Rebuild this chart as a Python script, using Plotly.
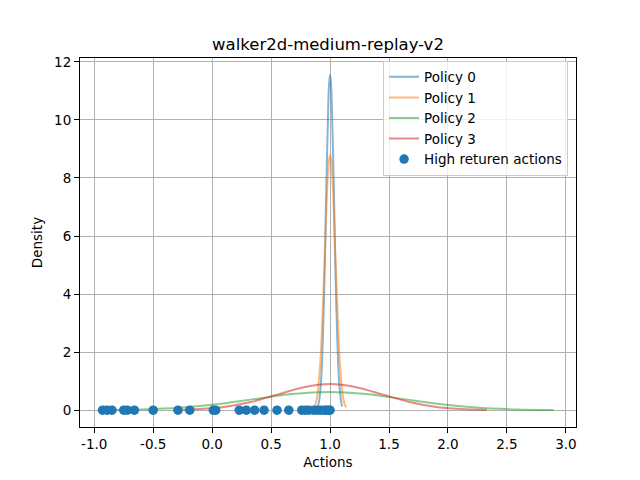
import plotly.graph_objects as go

# ---- data ----
p0_x = [0.896, 0.905, 0.913, 0.922, 0.931, 0.939, 0.948, 0.957, 0.965, 0.974, 0.983, 0.991, 1.0,
        1.009, 1.017, 1.026, 1.035, 1.043, 1.052, 1.061, 1.069, 1.078, 1.087, 1.095, 1.104]
p0_y = [0.128, 0.263, 0.507, 0.919, 1.563, 2.498, 3.750, 5.288, 7.005, 8.718, 10.193, 11.194, 11.55,
        11.194, 10.193, 8.718, 7.005, 5.288, 3.750, 2.498, 1.563, 0.919, 0.507, 0.263, 0.128]

p1_x = [0.864, 0.875, 0.887, 0.898, 0.909, 0.921, 0.932, 0.943, 0.955, 0.966, 0.977, 0.989, 1.0,
        1.011, 1.023, 1.034, 1.045, 1.057, 1.068, 1.079, 1.091, 1.102, 1.113, 1.125, 1.136]
p1_y = [0.098, 0.201, 0.386, 0.700, 1.191, 1.903, 2.857, 4.029, 5.337, 6.642, 7.766, 8.529, 8.8,
        8.529, 7.766, 6.642, 5.337, 4.029, 2.857, 1.903, 1.191, 0.700, 0.386, 0.201, 0.098]

p2_x = [-0.915, -0.598, -0.28, 0.038, 0.355, 0.673, 0.99, 1.308, 1.625, 1.943, 2.26, 2.578, 2.895]
p2_y = [0.007, 0.028, 0.085, 0.205, 0.382, 0.556, 0.63, 0.556, 0.382, 0.205, 0.085, 0.028, 0.007]

p3_x = [-0.329, -0.108, 0.114, 0.336, 0.557, 0.779, 1.0, 1.221, 1.443, 1.664, 1.886, 2.107, 2.329]
p3_y = [0.010, 0.040, 0.122, 0.292, 0.546, 0.794, 0.9, 0.794, 0.546, 0.292, 0.122, 0.040, 0.010]

high_x = [-0.93, -0.89, -0.85, -0.75, -0.72, -0.66, -0.50, -0.29, -0.19, 0.01, 0.03, 0.23, 0.29,
          0.36, 0.44, 0.55, 0.65, 0.76, 0.79, 0.82, 0.86, 0.89, 0.92, 0.95, 0.97, 0.99, 1.0]
high_y = [0.0] * len(high_x)

policies = [("Policy 0", p0_x, p0_y, "rgba(31,119,180,0.55)"),
            ("Policy 1", p1_x, p1_y, "rgba(255,127,14,0.55)"),
            ("Policy 2", p2_x, p2_y, "rgba(44,160,44,0.55)"),
            ("Policy 3", p3_x, p3_y, "rgba(214,39,40,0.55)")]

x_ticks = [-1.0, -0.5, 0.0, 0.5, 1.0, 1.5, 2.0, 2.5, 3.0]
y_ticks = [0, 2, 4, 6, 8, 10, 12]

fig = go.Figure()
for name, xs, ys, col in policies:
    fig.add_trace(go.Scatter(x=xs, y=ys, mode="lines", name=name,
                             line=dict(color=col, width=2, shape="spline")))
fig.add_trace(go.Scatter(x=high_x, y=high_y, mode="markers", name="High returen actions",
                         marker=dict(color="#1f77b4", size=9.5, line=dict(width=0))))

font = "DejaVu Sans"
axis_common = dict(showgrid=True, gridcolor="#b0b0b0", gridwidth=1, zeroline=False,
                   showline=True, linecolor="black", linewidth=1, mirror=True,
                   ticks="outside", ticklen=5, tickcolor="black", tickwidth=1,
                   tickfont=dict(family=font, size=13.5, color="black"))

fig.update_layout(
    width=640, height=480,
    margin=dict(l=80, r=64, t=58, b=53),
    paper_bgcolor="white", plot_bgcolor="white",
    font=dict(family=font, size=13.5, color="black"),
    title=dict(text="walker2d-medium-replay-v2", x=0.5125, xanchor="center",
               y=1 - 44 / 480, yanchor="middle", font=dict(family=font, size=16.5, color="black")),
    xaxis=dict(range=[-1.121, 3.086], tickvals=x_ticks, ticktext=[f"{v:.1f}" for v in x_ticks],
               title=dict(text="Actions", standoff=6, font=dict(family=font, size=13.5)),
               **axis_common),
    yaxis=dict(range=[-0.578, 12.13], tickvals=y_ticks, ticktext=[str(v) for v in y_ticks],
               title=dict(text="Density", standoff=8, font=dict(family=font, size=13.5)),
               **axis_common),
    legend=dict(x=0.984, xanchor="right", y=0.993, yanchor="top",
                bgcolor="rgba(255,255,255,0.8)", bordercolor="#cccccc", borderwidth=1,
                font=dict(family=font, size=13.5, color="black"), itemwidth=30,
                tracegroupgap=0),
    showlegend=True,
)

fig.write_html("out.html", config={"displayModeBar": False},
               post_script="document.body.style.margin='0';")
